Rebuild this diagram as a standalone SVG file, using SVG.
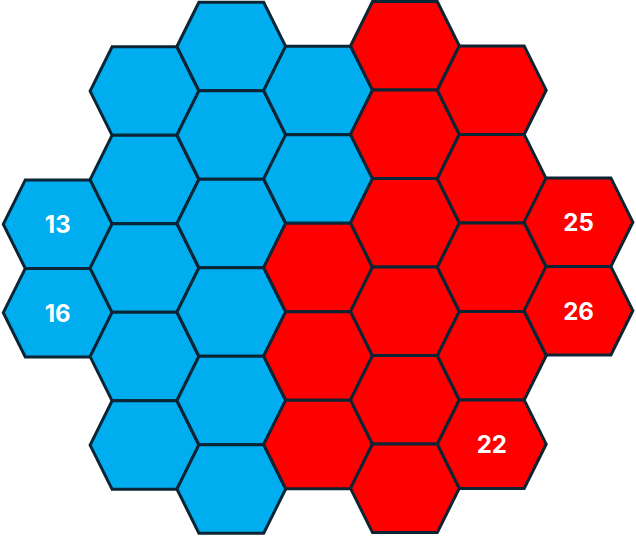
<svg xmlns="http://www.w3.org/2000/svg" xmlns:xlink="http://www.w3.org/1999/xlink" width="636" height="536" viewBox="0 0 636 536">
<style>
.hex{stroke:#0b2535;stroke-width:3;stroke-linejoin:miter}
.b{fill:#00aeef}
.r{fill:#fe0000}
.lbl{font-family:Inter,"Noto Sans","Liberation Sans",sans-serif;font-weight:700;font-size:24px;fill:#ffffff;text-anchor:middle}
</style>
<defs>
<polygon id="hx" points="-54.4,0 -32.4,-44.25 32.4,-44.25 54.4,0 32.4,44.25 -32.4,44.25"/>
</defs>
<rect width="636" height="536" fill="#ffffff"/>
<g id="connectors"/>
<!-- column 0 -->
<g id="n13" transform="translate(57.7,224.2)"><use xlink:href="#hx" class="hex b"/><text class="lbl" x="0" y="8.9">13</text></g>
<g id="n16" transform="translate(57.7,312.7)"><use xlink:href="#hx" class="hex b"/><text class="lbl" x="0" y="8.9">16</text></g>
<!-- column 1 -->
<g id="c1r0" transform="translate(144.5,91.1)"><use xlink:href="#hx" class="hex b"/></g>
<g id="c1r1" transform="translate(144.5,179.6)"><use xlink:href="#hx" class="hex b"/></g>
<g id="c1r2" transform="translate(144.5,268.1)"><use xlink:href="#hx" class="hex b"/></g>
<g id="c1r3" transform="translate(144.5,356.6)"><use xlink:href="#hx" class="hex b"/></g>
<g id="c1r4" transform="translate(144.5,445.1)"><use xlink:href="#hx" class="hex b"/></g>
<!-- column 2 -->
<g id="c2r0" transform="translate(231.3,46.5)"><use xlink:href="#hx" class="hex b"/></g>
<g id="c2r1" transform="translate(231.3,135)"><use xlink:href="#hx" class="hex b"/></g>
<g id="c2r2" transform="translate(231.3,223.5)"><use xlink:href="#hx" class="hex b"/></g>
<g id="c2r3" transform="translate(231.3,312)"><use xlink:href="#hx" class="hex b"/></g>
<g id="c2r4" transform="translate(231.3,400.5)"><use xlink:href="#hx" class="hex b"/></g>
<g id="c2r5" transform="translate(231.3,489)"><use xlink:href="#hx" class="hex b"/></g>
<!-- column 3 -->
<g id="c3r0" transform="translate(318.1,90.4)"><use xlink:href="#hx" class="hex b"/></g>
<g id="c3r1" transform="translate(318.1,178.9)"><use xlink:href="#hx" class="hex b"/></g>
<g id="c3r2" transform="translate(318.1,267.4)"><use xlink:href="#hx" class="hex r"/></g>
<g id="c3r3" transform="translate(318.1,355.9)"><use xlink:href="#hx" class="hex r"/></g>
<g id="c3r4" transform="translate(318.1,444.4)"><use xlink:href="#hx" class="hex r"/></g>
<!-- column 4 -->
<g id="c4r0" transform="translate(404.9,45.8)"><use xlink:href="#hx" class="hex r"/></g>
<g id="c4r1" transform="translate(404.9,134.3)"><use xlink:href="#hx" class="hex r"/></g>
<g id="c4r2" transform="translate(404.9,222.8)"><use xlink:href="#hx" class="hex r"/></g>
<g id="c4r3" transform="translate(404.9,311.3)"><use xlink:href="#hx" class="hex r"/></g>
<g id="c4r4" transform="translate(404.9,399.8)"><use xlink:href="#hx" class="hex r"/></g>
<g id="c4r5" transform="translate(404.9,488.3)"><use xlink:href="#hx" class="hex r"/></g>
<!-- column 5 -->
<g id="c5r0" transform="translate(491.8,90.2)"><use xlink:href="#hx" class="hex r"/></g>
<g id="c5r1" transform="translate(491.8,178.7)"><use xlink:href="#hx" class="hex r"/></g>
<g id="c5r2" transform="translate(491.8,267.2)"><use xlink:href="#hx" class="hex r"/></g>
<g id="c5r3" transform="translate(491.8,355.7)"><use xlink:href="#hx" class="hex r"/></g>
<g id="n22" transform="translate(491.8,444.2)"><use xlink:href="#hx" class="hex r"/><text class="lbl" x="0" y="8.9">22</text></g>
<!-- column 6 -->
<g id="n25" transform="translate(578.5,222.2)"><use xlink:href="#hx" class="hex r"/><text class="lbl" x="0" y="8.9">25</text></g>
<g id="n26" transform="translate(578.5,310.7)"><use xlink:href="#hx" class="hex r"/><text class="lbl" x="0" y="8.9">26</text></g>
</svg>
